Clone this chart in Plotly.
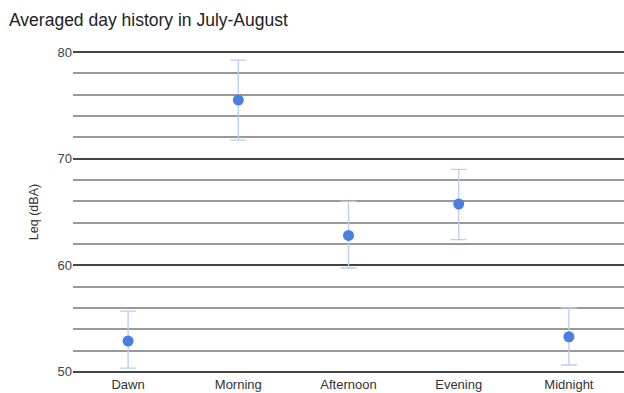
import plotly.graph_objects as go

# Averaged Leq per period of the day, with spread shown as error bars
periods = ["Dawn", "Morning", "Afternoon", "Evening", "Midnight"]
leq_mean = [52.9, 75.5, 62.8, 65.75, 53.3]
leq_upper = [55.7, 79.25, 66.0, 69.0, 56.0]
leq_lower = [50.35, 71.75, 59.75, 62.4, 50.65]

err_plus = [u - m for u, m in zip(leq_upper, leq_mean)]
err_minus = [m - l for m, l in zip(leq_mean, leq_lower)]

fig = go.Figure(
    go.Scatter(
        x=periods,
        y=leq_mean,
        mode="markers",
        marker=dict(color="#4a7fe0", size=11),
        error_y=dict(
            type="data",
            symmetric=False,
            array=err_plus,
            arrayminus=err_minus,
            color="#b9cdf0",
            thickness=1.3,
            width=8,
        ),
        showlegend=False,
    )
)

fig.update_layout(
    width=624,
    height=393,
    margin=dict(l=73, r=0, t=51, b=20),
    paper_bgcolor="white",
    plot_bgcolor="white",
    font=dict(family="Liberation Sans, Arial, sans-serif", color="#333333"),
    title=dict(
        text="Averaged day history in July-August",
        x=9 / 624,
        xanchor="left",
        xref="container",
        y=1 - 20 / 393,
        yref="container",
        yanchor="middle",
        font=dict(size=17.5, color="#222222"),
    ),
    xaxis=dict(
        range=[-0.5, 4.5],
        showgrid=False,
        zeroline=False,
        showline=False,
        ticks="",
        ticklabelstandoff=2,
        tickfont=dict(size=13, color="#333333"),
    ),
    yaxis=dict(
        range=[49.9, 80.1],
        dtick=10,
        tick0=50,
        showgrid=True,
        gridcolor="#444444",
        gridwidth=1.6,
        zeroline=False,
        showline=False,
        ticks="",
        tickfont=dict(size=13, color="#444444"),
        title=dict(text="Leq (dBA)", font=dict(size=12.5, color="#333333"), standoff=16),
        minor=dict(dtick=2, showgrid=True, gridcolor="#999999", gridwidth=1.6),
    ),
)

fig.write_html("out.html")
